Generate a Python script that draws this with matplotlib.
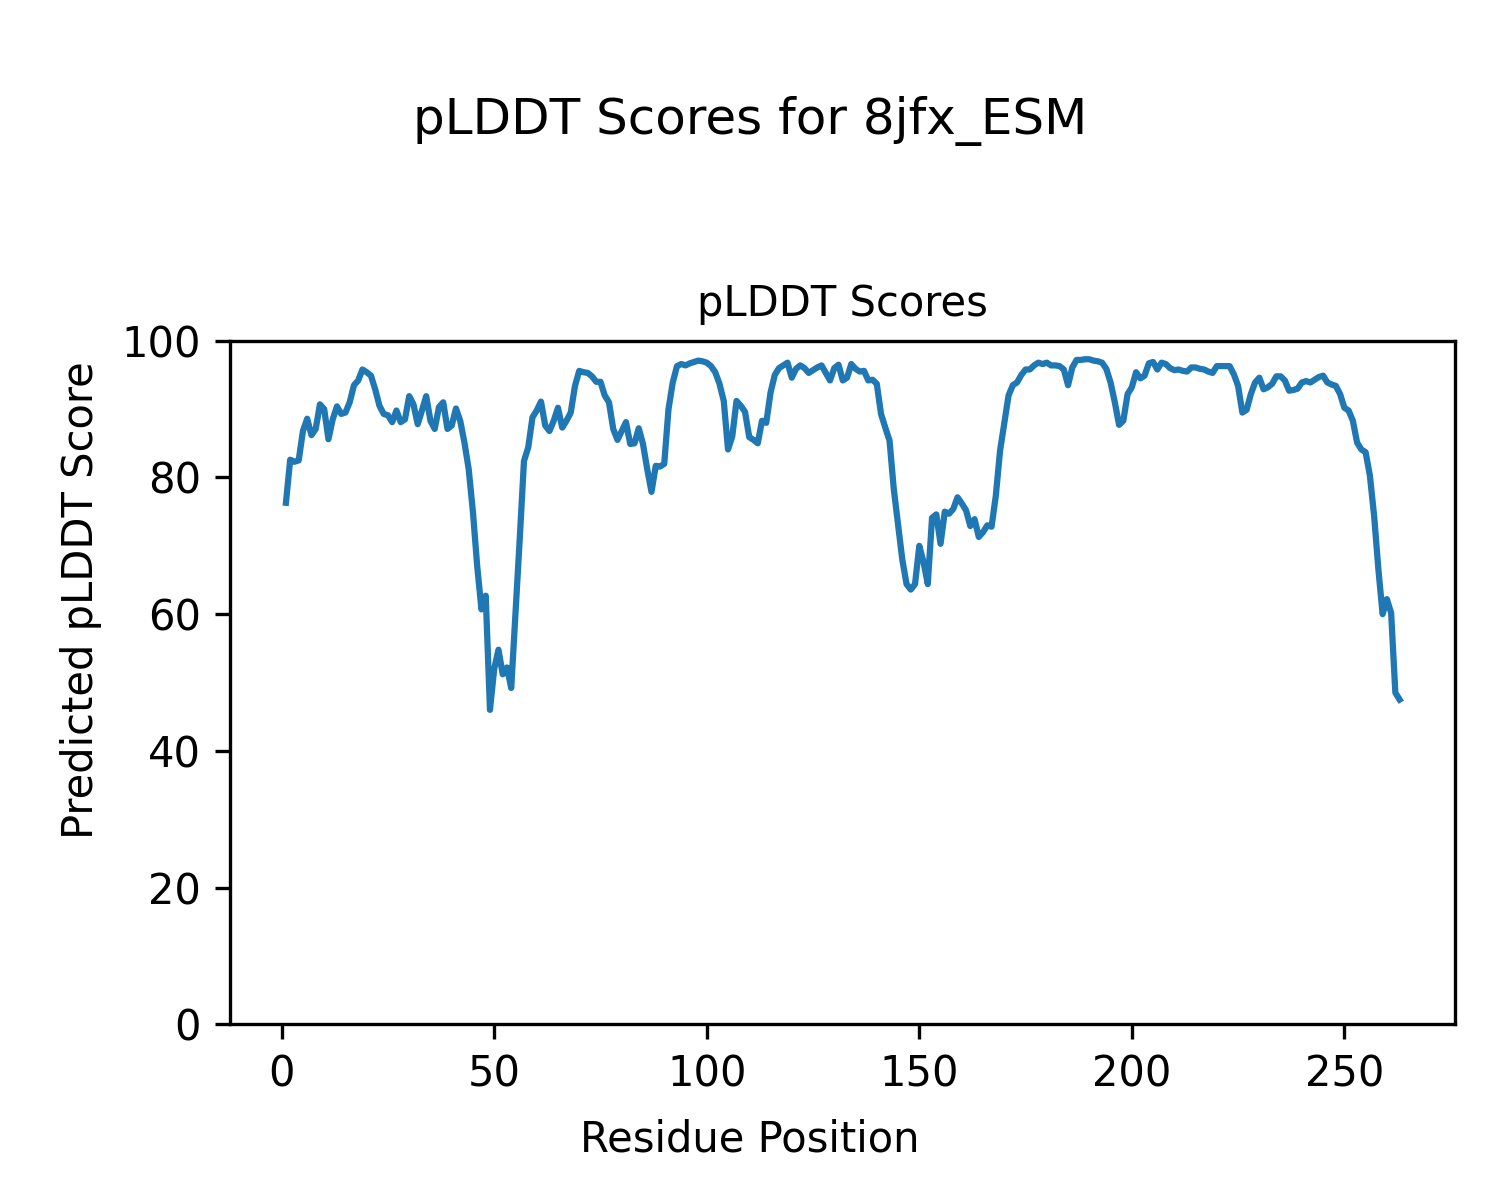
import matplotlib
matplotlib.use("Agg")
import matplotlib.pyplot as plt

title = "pLDDT Scores for 8jfx_ESM"
subtitle = "pLDDT Scores"
xlabel = "Residue Position"
ylabel = "Predicted pLDDT Score"

residues = list(range(1, 264))
plddt = [
    76.3, 82.6, 82.3, 82.5, 86.8, 88.6, 86.2, 87.1, 90.7, 90.0,
    85.6, 88.5, 90.4, 89.3, 89.5, 91.0, 93.5, 94.2, 95.8, 95.4,
    94.9, 92.9, 90.5, 89.3, 89.1, 88.1, 89.8, 88.1, 88.5, 91.9,
    90.7, 87.8, 89.8, 91.9, 88.3, 87.1, 90.3, 91.0, 87.1, 87.6,
    90.1, 88.3, 85.1, 81.2, 74.9, 67.0, 60.7, 62.7, 46.0, 52.0,
    54.8, 51.2, 52.2, 49.2, 60.0, 71.0, 82.4, 84.4, 88.8, 89.8,
    91.1, 87.6, 86.8, 88.3, 90.2, 87.3, 88.3, 89.5, 93.4, 95.6,
    95.4, 95.3, 94.8, 94.0, 94.0, 92.0, 91.0, 87.1, 85.5, 86.8,
    88.1, 84.9, 85.0, 87.2, 84.9, 81.2, 77.9, 81.7, 81.6, 82.0,
    90.0, 93.9, 96.3, 96.6, 96.4, 96.7, 96.9, 97.1, 97.0, 96.8,
    96.3, 95.4, 93.7, 91.2, 84.1, 86.0, 91.2, 90.5, 89.6, 85.9,
    85.5, 85.0, 88.3, 88.0, 92.4, 95.0, 96.0, 96.4, 96.8, 94.6,
    95.9, 96.4, 96.0, 95.3, 95.7, 96.1, 96.4, 95.3, 94.2, 96.0,
    96.5, 94.2, 94.6, 96.6, 95.9, 95.5, 95.6, 94.2, 94.3, 93.7,
    89.3, 87.3, 85.4, 78.3, 73.2, 68.0, 64.4, 63.6, 64.4, 70.0,
    67.6, 64.4, 74.1, 74.6, 70.3, 75.0, 74.7, 75.4, 77.1, 76.2,
    75.2, 72.9, 73.9, 71.3, 72.0, 73.0, 72.8, 77.3, 83.9, 88.0,
    92.0, 93.5, 93.9, 95.0, 95.8, 95.8, 96.4, 96.8, 96.6, 96.8,
    96.4, 96.4, 96.3, 95.8, 93.5, 96.1, 97.2, 97.2, 97.3, 97.3,
    97.1, 97.0, 96.8, 95.9, 93.9, 91.0, 87.7, 88.3, 92.2, 93.2,
    95.4, 94.5, 94.9, 96.7, 96.9, 95.8, 96.8, 96.6, 96.0, 95.7,
    95.8, 95.6, 95.5, 96.1, 96.1, 95.9, 95.8, 95.5, 95.3, 96.3,
    96.3, 96.3, 96.3, 95.1, 93.4, 89.5, 89.9, 92.2, 93.9, 94.6,
    92.9, 93.2, 93.7, 94.8, 94.8, 94.2, 92.7, 92.8, 93.0, 93.9,
    94.1, 93.9, 94.3, 94.7, 94.9, 93.9, 93.6, 93.4, 92.2, 90.2,
    89.8, 88.3, 85.1, 84.1, 83.7, 80.3, 74.4, 66.6, 60.0, 62.2,
    60.2, 48.5, 47.5,
]

fig = plt.figure(figsize=(5, 4), dpi=300)
ax = fig.add_axes([0.1535, 0.1465, 0.8167, 0.5695])
ax.plot(residues, plddt, color="#1f77b4", linewidth=1.5)
ax.set_ylim(0, 100)
ax.set_title(subtitle, fontsize=10)
fig.supxlabel(xlabel, fontsize=10, y=0.033)
fig.supylabel(ylabel, fontsize=10, x=0.04)
fig.suptitle(title, fontsize=12, y=0.92)
fig.savefig("out.png", dpi=300)
